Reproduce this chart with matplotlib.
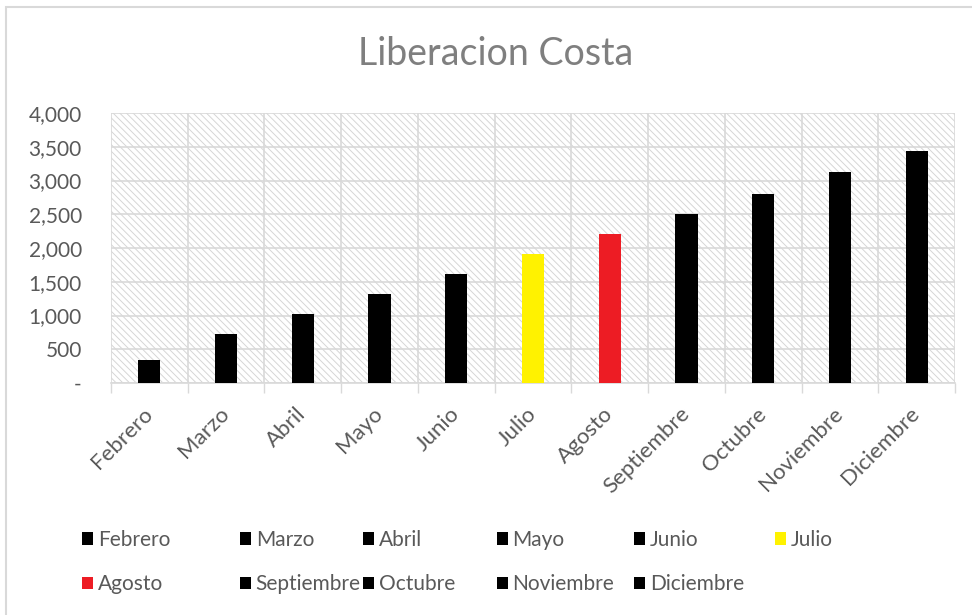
import matplotlib
matplotlib.use("Agg")
import matplotlib.pyplot as plt
from matplotlib.patches import Patch, Rectangle
from matplotlib.ticker import FuncFormatter

# data
meses = ["Febrero", "Marzo", "Abril", "Mayo", "Junio", "Julio",
         "Agosto", "Septiembre", "Octubre", "Noviembre", "Diciembre"]
valores = [340, 730, 1020, 1320, 1620, 1910, 2210, 2510, 2800, 3130, 3430]
colores = ["#000000"] * 5 + ["#FFF200", "#ED1C24"] + ["#000000"] * 4

plt.rcParams['font.family'] = ['Lato', 'DejaVu Sans']
plt.rcParams['hatch.linewidth'] = 0.7
gris_texto = "#595959"
gris_linea = "#D9D9D9"

fig = plt.figure(figsize=(9.72, 6.15), dpi=100)
ax = fig.add_axes([111 / 972, 1 - 383 / 615, 844 / 972, 270 / 615])

# hatched plot area background
ax.add_patch(Rectangle((0, 0), 1, 1, transform=ax.transAxes, facecolor="white",
                       edgecolor="#D6D6D6", hatch="\\" * 5, linewidth=0, zorder=0))

x = list(range(len(meses)))
ax.bar(x, valores, width=0.29, color=colores, zorder=3)

ax.set_xlim(-0.5, len(meses) - 0.5)
ax.set_ylim(0, 4000)
ax.set_yticks(range(0, 4001, 500))
ax.yaxis.set_major_formatter(FuncFormatter(lambda v, p: "-" if v == 0 else f"{int(v):,}"))
ax.set_xticks(x)
ax.set_xticklabels(meses, rotation=45, ha="right", va="center", rotation_mode="anchor")
ax.set_xticks([i - 0.5 for i in range(len(meses) + 1)], minor=True)

ax.tick_params(axis="x", which="major", length=0, pad=20, labelsize=16, labelcolor=gris_texto)
ax.tick_params(axis="x", which="minor", length=7, color=gris_linea, width=1)
ax.tick_params(axis="y", length=0, pad=21, labelsize=15, labelcolor=gris_texto)

ax.grid(True, axis="y", which="major", color=gris_linea, linewidth=1.2, zorder=1)
ax.grid(True, axis="x", which="minor", color=gris_linea, linewidth=1.2, zorder=1)
ax.set_axisbelow(True)
for s in ax.spines.values():
    s.set_visible(False)
ax.spines["bottom"].set_visible(True)
ax.spines["bottom"].set_color(gris_linea)
ax.spines["bottom"].set_linewidth(1.2)

fig.text(496 / 972, 1 - 54 / 615, "Liberacion Costa", ha="center", va="center",
         fontsize=27, color="#7F7F7F")

# legend laid out in rows like Excel: one small legend per column
col_x = [82, 240, 363, 497, 634, 775]
for col in range(6):
    idx = [i for i in (col, col + 6) if i < len(meses)]
    fig.legend([Patch(facecolor=colores[i], edgecolor="none") for i in idx],
               [meses[i] for i in idx],
               loc="upper left", bbox_to_anchor=(col_x[col] / 972, 1 - 530 / 615),
               frameon=False, fontsize=15, labelcolor=gris_texto,
               handlelength=0.55, handleheight=0.55, handletextpad=0.2,
               labelspacing=1.17, borderpad=0, borderaxespad=0)

# chart border (right and bottom edges fall outside the picture)
fig.patches.append(Rectangle((6 / 972, -0.1), 1, 1.1 - 7 / 615, transform=fig.transFigure,
                             facecolor="none", edgecolor=gris_linea, linewidth=1.5))

fig.savefig("out.png", dpi=100)
